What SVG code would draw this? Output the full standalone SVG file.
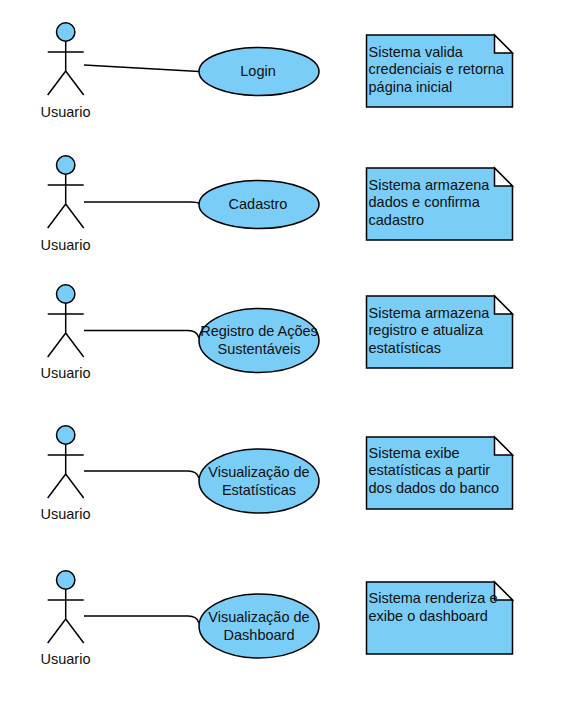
<svg xmlns="http://www.w3.org/2000/svg" width="567" height="708" viewBox="0 0 567 708">
<style>
.s{fill:#79cdf7;stroke:#000;stroke-width:1.5}
.l{fill:none;stroke:#000;stroke-width:1.5}
.f{fill:#fff;stroke:#000;stroke-width:1.5}
text{font-family:"Liberation Sans",Arial,sans-serif;font-size:14.500px;fill:#111}
.c{text-anchor:middle}
</style>
<defs>
<g id="actor">
<circle class="s" cx="0" cy="0" r="9.2"/>
<path class="l" d="M0 9.2V39M-18 20H18M-18 63L0 39L18 63"/>
</g>
<g id="note">
<path class="s" d="M0 0H128L146 18V72H0Z"/>
<path class="f" d="M128 0V18H146Z"/>
</g>
</defs>
<rect width="567" height="708" fill="#fff"/>
<g id="connectors">
<path class="l" d="M84 65L199 71.500"/>
<path class="l" d="M84 202H190Q199 202 199 204"/>
<path class="l" d="M84 330.500H188Q197 330.500 199 338"/>
<path class="l" d="M84 471H188Q197 471 199 478"/>
<path class="l" d="M84 616H188Q197 616 199 623"/>
</g>
<g id="actor1"><use href="#actor" x="65.700" y="32"/><text class="c" x="65.500" y="116.500">Usuario</text></g>
<g id="actor2"><use href="#actor" x="65.700" y="165"/><text class="c" x="65.500" y="249.500">Usuario</text></g>
<g id="actor3"><use href="#actor" x="65.700" y="294"/><text class="c" x="65.500" y="377.500">Usuario</text></g>
<g id="actor4"><use href="#actor" x="65.700" y="435"/><text class="c" x="65.500" y="518.500">Usuario</text></g>
<g id="actor5"><use href="#actor" x="65.700" y="580"/><text class="c" x="65.500" y="663.500">Usuario</text></g>
<g id="usecase1"><ellipse class="s" cx="259" cy="71.500" rx="60" ry="24"/><text class="c" x="258" y="76">Login</text></g>
<g id="usecase2"><ellipse class="s" cx="259" cy="204.500" rx="60" ry="24"/><text class="c" x="258" y="209">Cadastro</text></g>
<g id="usecase3"><ellipse class="s" cx="259" cy="340.500" rx="60" ry="32"/><text class="c" x="259" y="336">Registro de Ações</text><text class="c" x="259" y="354">Sustentáveis</text></g>
<g id="usecase4"><ellipse class="s" cx="259" cy="481" rx="60" ry="32"/><text class="c" x="259" y="477">Visualização de</text><text class="c" x="259" y="495">Estatísticas</text></g>
<g id="usecase5"><ellipse class="s" cx="259" cy="626" rx="60" ry="32"/><text class="c" x="259" y="622">Visualização de</text><text class="c" x="259" y="640">Dashboard</text></g>
<g id="note1"><use href="#note" x="366.500" y="35"/><text x="368.500" y="57">Sistema valida</text><text x="368.500" y="74">credenciais e retorna</text><text x="368.500" y="92">página inicial</text></g>
<g id="note2"><use href="#note" x="366.500" y="168"/><text x="368.500" y="190">Sistema armazena</text><text x="368.500" y="207">dados e confirma</text><text x="368.500" y="225">cadastro</text></g>
<g id="note3"><use href="#note" x="366.500" y="296"/><text x="368.500" y="318">Sistema armazena</text><text x="368.500" y="335">registro e atualiza</text><text x="368.500" y="353">estatísticas</text></g>
<g id="note4"><use href="#note" x="366.500" y="437"/><text x="368.500" y="458">Sistema exibe</text><text x="368.500" y="475">estatísticas a partir</text><text x="368.500" y="493">dos dados do banco</text></g>
<g id="note5"><use href="#note" x="366.500" y="582"/><text x="368.500" y="603">Sistema renderiza e</text><text x="368.500" y="621">exibe o dashboard</text></g>
</svg>
